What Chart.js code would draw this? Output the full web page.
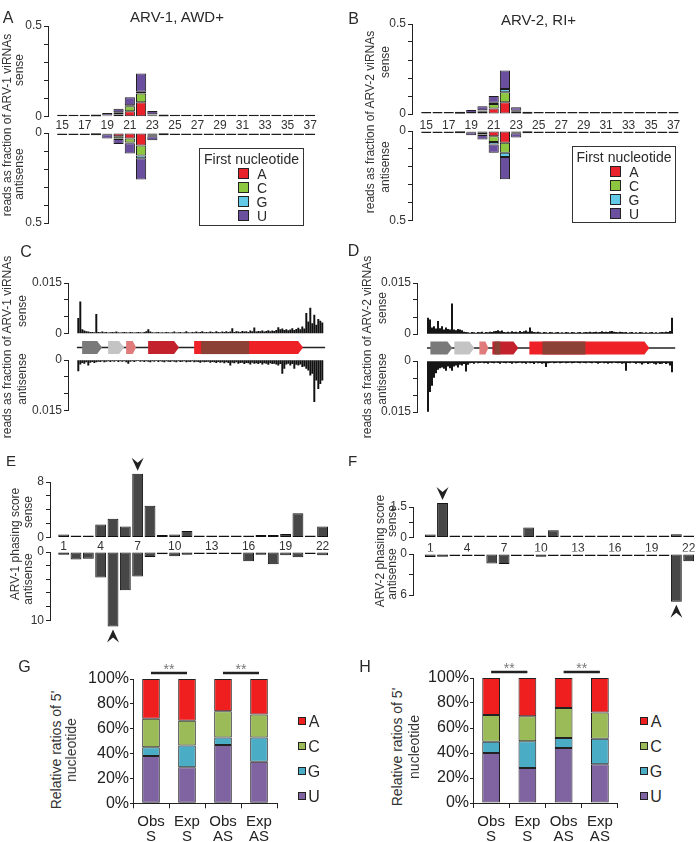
<!DOCTYPE html>
<html lang="fr">
<head>
<meta charset="utf-8">
<title>ARV viRNAs</title>
<script src="https://cdn.jsdelivr.net/npm/chart.js@4.4.1/dist/chart.umd.min.js"></script>
<style>
    body { margin: 0; background: #fff; }
    #page { position: relative; width: 696px; height: 842px; overflow: hidden;
            font-family: "Liberation Sans", Arial, sans-serif; color: #2a2a2a; }
    #page canvas { position: absolute; }
    .txt { position: absolute; white-space: nowrap; line-height: 1; transform: translate(-50%, -50%); }
    .rot { transform: translate(-50%, -50%) rotate(-90deg); color: #333; }
    .leg { position: absolute; border: 1.5px solid #333; box-sizing: border-box; }
    .carre { position: absolute; border: 1px solid #222; box-sizing: border-box; }
</style>
</head>
<body>
<div id="page"></div>
<script>
// ---------------- DONNÉES ----------------

// A / B : taille des viRNAs et premier nucléotide
const lengths = [15, 16, 17, 18, 19, 20, 21, 22, 23, 24, 25, 26, 27, 28, 29, 30, 31, 32, 33, 34, 35, 36, 37];
const lengthTicks = [15, 17, 19, 21, 23, 25, 27, 29, 31, 33, 35, 37];
const fractionTicks = [0, 0.1, 0.2, 0.3, 0.4, 0.5];
const nucleotides = ['A', 'C', 'G', 'U'];

const arv1SenseA = [0, 0, 0, 0.001, 0.003, 0.012, 0.030, 0.080, 0.008, 0.001, 0, 0, 0, 0, 0, 0, 0, 0, 0, 0, 0, 0, 0];
const arv1SenseC = [0, 0, 0, 0, 0.002, 0.008, 0.028, 0.048, 0.003, 0, 0, 0, 0, 0, 0, 0, 0, 0, 0, 0, 0, 0, 0];
const arv1SenseG = [0, 0, 0, 0, 0.001, 0.004, 0.005, 0.010, 0.002, 0, 0, 0, 0, 0, 0, 0, 0, 0, 0, 0, 0, 0, 0];
const arv1SenseU = [0.003, 0.002, 0.002, 0.006, 0.014, 0.020, 0.044, 0.100, 0.018, 0.006, 0.002, 0.002, 0.002, 0.002, 0.002, 0.002, 0.002, 0.002, 0.002, 0.002, 0.002, 0.002, 0.002];

const arv1AntiA = [0, 0, 0, 0.001, 0.004, 0.018, 0.031, 0.069, 0.010, 0.001, 0, 0, 0, 0, 0, 0, 0, 0, 0, 0, 0, 0, 0];
const arv1AntiC = [0, 0, 0, 0, 0.002, 0.012, 0.022, 0.056, 0.005, 0, 0, 0, 0, 0, 0, 0, 0, 0, 0, 0, 0, 0, 0];
const arv1AntiG = [0, 0, 0, 0, 0.001, 0.003, 0.004, 0.015, 0.003, 0, 0, 0, 0, 0, 0, 0, 0, 0, 0, 0, 0, 0, 0];
const arv1AntiU = [0.003, 0.003, 0.003, 0.008, 0.024, 0.028, 0.057, 0.118, 0.022, 0.004, 0.002, 0.002, 0.002, 0.002, 0.002, 0.002, 0.002, 0.002, 0.002, 0.002, 0.002, 0.002, 0.002];

const arv2SenseA = [0, 0, 0, 0.001, 0.003, 0.012, 0.030, 0.065, 0.012, 0.001, 0, 0, 0, 0, 0, 0, 0, 0, 0, 0, 0, 0, 0];
const arv2SenseC = [0, 0, 0, 0, 0.002, 0.006, 0.026, 0.056, 0.004, 0, 0, 0, 0, 0, 0, 0, 0, 0, 0, 0, 0, 0, 0];
const arv2SenseG = [0, 0, 0, 0, 0.001, 0.003, 0.006, 0.018, 0.002, 0, 0, 0, 0, 0, 0, 0, 0, 0, 0, 0, 0, 0, 0];
const arv2SenseU = [0.002, 0.002, 0.002, 0.004, 0.016, 0.022, 0.038, 0.102, 0.019, 0.004, 0.002, 0.002, 0.002, 0.002, 0.002, 0.002, 0.002, 0.002, 0.002, 0.002, 0.002, 0.002, 0.002];

const arv2AntiA = [0, 0, 0, 0.001, 0.004, 0.010, 0.030, 0.065, 0.006, 0.001, 0, 0, 0, 0, 0, 0, 0, 0, 0, 0, 0, 0, 0];
const arv2AntiC = [0, 0, 0, 0, 0.002, 0.010, 0.031, 0.056, 0.004, 0, 0, 0, 0, 0, 0, 0, 0, 0, 0, 0, 0, 0, 0];
const arv2AntiG = [0, 0, 0, 0, 0.001, 0.003, 0.015, 0.024, 0.002, 0, 0, 0, 0, 0, 0, 0, 0, 0, 0, 0, 0, 0, 0];
const arv2AntiU = [0.003, 0.003, 0.003, 0.004, 0.017, 0.025, 0.046, 0.124, 0.025, 0.003, 0.002, 0.002, 0.002, 0.002, 0.002, 0.002, 0.002, 0.002, 0.002, 0.002, 0.002, 0.002, 0.002];

// C / D : couverture le long du génome (123 fenêtres)
const coverageTicks = [0, 0.005, 0.01, 0.015];
const arv1CovSense = [
    0.0045, 0.0094, 0.0012, 0.0008, 0.0006, 0.0005, 0.0004, 0.0004, 0.0003, 0.0057,
    0.0004, 0.0003, 0.0005, 0.0003, 0.0004, 0.0002, 0.0003, 0.0004, 0.0003, 0.0005,
    0.0003, 0.0002, 0.0003, 0.0004, 0.0003, 0.0002, 0.0004, 0.0003, 0.0002, 0.0003,
    0.0004, 0.0003, 0.0002, 0.0004, 0.0006, 0.0012, 0.0005, 0.0003, 0.0002, 0.0003,
    0.0004, 0.0002, 0.0003, 0.0002, 0.0004, 0.0003, 0.0002, 0.0003, 0.0005, 0.0002,
    0.0003, 0.0004, 0.0002, 0.0003, 0.0006, 0.0003, 0.0002, 0.0004, 0.0003, 0.0005,
    0.0003, 0.0004, 0.0006, 0.0003, 0.0004, 0.0003, 0.0005, 0.0004, 0.0003, 0.0006,
    0.0004, 0.0003, 0.0005, 0.0004, 0.0006, 0.0004, 0.0005, 0.0015, 0.0004, 0.0006,
    0.0005, 0.0004, 0.0007, 0.0005, 0.0006, 0.0004, 0.0008, 0.0006, 0.0017, 0.0005,
    0.0007, 0.0006, 0.0008, 0.0005, 0.0007, 0.0009, 0.0006, 0.0008, 0.0007, 0.0010,
    0.0018, 0.0012, 0.0014, 0.0010, 0.0012, 0.0009, 0.0011, 0.0015, 0.0010, 0.0013,
    0.0016, 0.0012, 0.0020, 0.0014, 0.0060, 0.0035, 0.0076, 0.0030, 0.0055, 0.0025,
    0.0042, 0.0037, 0.0032
];
const arv1CovAnti = [
    0.0032, 0.0012, 0.0008, 0.0010, 0.0006, 0.0015, 0.0007, 0.0005, 0.0008, 0.0006,
    0.0004, 0.0005, 0.0003, 0.0006, 0.0004, 0.0003, 0.0005, 0.0003, 0.0004, 0.0002,
    0.0005, 0.0003, 0.0004, 0.0003, 0.0006, 0.0010, 0.0004, 0.0003, 0.0005, 0.0003,
    0.0002, 0.0004, 0.0003, 0.0005, 0.0003, 0.0004, 0.0006, 0.0003, 0.0004, 0.0002,
    0.0005, 0.0003, 0.0004, 0.0006, 0.0003, 0.0004, 0.0005, 0.0003, 0.0004, 0.0006,
    0.0003, 0.0005, 0.0004, 0.0003, 0.0006, 0.0004, 0.0005, 0.0003, 0.0006, 0.0004,
    0.0005, 0.0007, 0.0004, 0.0006, 0.0005, 0.0004, 0.0007, 0.0005, 0.0006, 0.0008,
    0.0005, 0.0007, 0.0006, 0.0009, 0.0006, 0.0008, 0.0015, 0.0007, 0.0009, 0.0006,
    0.0010, 0.0008, 0.0007, 0.0011, 0.0008, 0.0009, 0.0012, 0.0007, 0.0010, 0.0009,
    0.0011, 0.0008, 0.0012, 0.0009, 0.0010, 0.0013, 0.0009, 0.0011, 0.0010, 0.0012,
    0.0015, 0.0011, 0.0040, 0.0025, 0.0012, 0.0010, 0.0015, 0.0011, 0.0025, 0.0013,
    0.0015, 0.0012, 0.0020, 0.0018, 0.0025, 0.0030, 0.0045, 0.0040, 0.0123, 0.0060,
    0.0085, 0.0070, 0.0060
];
const arv2CovSense = [
    0.0047, 0.0042, 0.0018, 0.0022, 0.0015, 0.0037, 0.0016, 0.0022, 0.0012, 0.0018,
    0.0014, 0.0012, 0.0089, 0.0012, 0.0010, 0.0014, 0.0012, 0.0010, 0.0006, 0.0005,
    0.0004, 0.0003, 0.0005, 0.0004, 0.0003, 0.0005, 0.0004, 0.0006, 0.0003, 0.0005,
    0.0004, 0.0006, 0.0005, 0.0007, 0.0008, 0.0010, 0.0007, 0.0009, 0.0005, 0.0004,
    0.0006, 0.0004, 0.0007, 0.0005, 0.0006, 0.0004, 0.0008, 0.0005, 0.0007, 0.0009,
    0.0006, 0.0018, 0.0007, 0.0005, 0.0004, 0.0006, 0.0004, 0.0003, 0.0005, 0.0004,
    0.0003, 0.0005, 0.0004, 0.0003, 0.0004, 0.0005, 0.0003, 0.0004, 0.0003, 0.0005,
    0.0004, 0.0003, 0.0005, 0.0004, 0.0003, 0.0004, 0.0005, 0.0003, 0.0004, 0.0005,
    0.0004, 0.0006, 0.0004, 0.0005, 0.0006, 0.0004, 0.0005, 0.0007, 0.0005, 0.0006,
    0.0005, 0.0007, 0.0008, 0.0006, 0.0005, 0.0004, 0.0006, 0.0005, 0.0004, 0.0005,
    0.0003, 0.0004, 0.0005, 0.0003, 0.0004, 0.0003, 0.0005, 0.0004, 0.0003, 0.0004,
    0.0003, 0.0004, 0.0005, 0.0003, 0.0004, 0.0003, 0.0004, 0.0005, 0.0004, 0.0006,
    0.0005, 0.0008, 0.0047
];
const arv2CovAnti = [
    0.0148, 0.0090, 0.0072, 0.0048, 0.0035, 0.0025, 0.0020, 0.0018, 0.0022, 0.0028,
    0.0015, 0.0020, 0.0028, 0.0015, 0.0012, 0.0018, 0.0010, 0.0012, 0.0008, 0.0030,
    0.0010, 0.0006, 0.0005, 0.0007, 0.0004, 0.0006, 0.0005, 0.0004, 0.0006, 0.0005,
    0.0007, 0.0004, 0.0005, 0.0006, 0.0004, 0.0005, 0.0007, 0.0004, 0.0005, 0.0006,
    0.0004, 0.0005, 0.0007, 0.0004, 0.0006, 0.0005, 0.0004, 0.0006, 0.0005, 0.0007,
    0.0004, 0.0006, 0.0005, 0.0008, 0.0004, 0.0006, 0.0005, 0.0007, 0.0006, 0.0017,
    0.0006, 0.0005, 0.0004, 0.0006, 0.0005, 0.0004, 0.0006, 0.0005, 0.0004, 0.0006,
    0.0005, 0.0004, 0.0006, 0.0005, 0.0004, 0.0005, 0.0006, 0.0004, 0.0005, 0.0006,
    0.0004, 0.0005, 0.0006, 0.0004, 0.0005, 0.0007, 0.0005, 0.0004, 0.0006, 0.0005,
    0.0007, 0.0005, 0.0006, 0.0004, 0.0005, 0.0006, 0.0005, 0.0007, 0.0006, 0.0028,
    0.0005, 0.0006, 0.0004, 0.0005, 0.0007, 0.0005, 0.0006, 0.0009, 0.0006, 0.0005,
    0.0008, 0.0006, 0.0005, 0.0007, 0.0009, 0.0006, 0.0008, 0.0007, 0.0005, 0.0008,
    0.0006, 0.0012, 0.0032
];

// Organisation du génome (en fenêtres)
const arv1Genome = [-0.7, 123.4];
const arv1GeneStart = [1.9, 14.9, 23.9, 34.9, 57.9];
const arv1GeneEnd = [11.9, 22.9, 28.9, 50.4, 112.4];
const arv1DomStart = [61.4];
const arv1DomEnd = [85.4];
const arv2Genome = [-0.5, 123.6];
const arv2GeneStart = [1.2, 13.2, 25.7, 32.2, 50.7];
const arv2GeneEnd = [12.2, 23.2, 30.2, 45.2, 110.7];
const arv2DomStart = [33.2, 57.2];
const arv2DomEnd = [36.2, 78.7];

// E / F : score de phasage
const phaseCats = [1, 2, 3, 4, 5, 6, 7, 8, 9, 10, 11, 12, 13, 14, 15, 16, 17, 18, 19, 20, 21, 22];
const phaseTicks = [1, 4, 7, 10, 13, 16, 19, 22];
const arv1PhaseSense = [0.43, 0.29, 0.19, 1.9, 2.7, 1.6, 9.2, 4.6, 0.38, 0.43, 0.96, 0.24, 0.14, 0.14, 0.14, 0.14, 0.38, 0.38, 0.53, 3.5, 0.14, 1.6];
const arv1PhaseAnti = [0.4, 1.1, 1.0, 3.75, 10.9, 5.6, 3.6, 0.73, 0.34, 0.63, 0.39, 0.24, 0.2, 0.1, 0.34, 1.37, 0.39, 1.8, 0.49, 0.78, 0.1, 0.49];
const arv2PhaseSense = [0.15, 1.7, 0.1, 0.02, 0.02, 0.03, 0.02, 0.08, 0.49, 0.1, 0.36, 0.02, 0.03, 0.05, 0.1, 0.07, 0.02, 0.02, 0.02, 0.1, 0.16, 0.05];
const arv2PhaseAnti = [0.44, 0.4, 0.2, 0.2, 0.2, 1.4, 1.46, 0.24, 0.24, 0.4, 0.2, 0.1, 0.1, 0.1, 0.1, 0.1, 0.1, 0.1, 0.1, 0.1, 7.0, 1.07];
const arv1SenseTicks = [0, 2, 4, 6, 8];
const arv1AntiTicks = [0, 2, 4, 6, 8, 10];
const arv2SenseTicks = [0, 0.75, 1.5];
const arv2AntiTicks = [0, 3, 6];

// G / H : ratios du nucléotide 5' (%)
const ratioLabels = [['Obs', 'S'], ['Exp', 'S'], ['Obs', 'AS'], ['Exp', 'AS']];
const percentTicks = [0, 20, 40, 60, 80, 100];
const sigPairs = [[0, 1], [2, 3]];
const arv1RatioU = [38, 29, 47, 33.5];
const arv1RatioG = [7, 17.5, 6, 19.5];
const arv1RatioC = [23, 20, 21, 18.5];
const arv1RatioA = [32, 33.5, 26, 28.5];
const arv2RatioU = [40, 28, 44, 31];
const arv2RatioG = [9, 21.5, 8, 20.5];
const arv2RatioC = [21.5, 20, 24, 21];
const arv2RatioA = [29.5, 30.5, 24, 27.5];

// ---------------- STYLES ----------------
const lengthColors = ['#e8212a', '#8dc63f', '#62c9e6', '#6b4f9f'];       // A C G U
const ratioColors = ['#f01f1f', '#9bbb59', '#4bacc6', '#8064a2'];        // A C G U
const geneColors = ['#7a7a7a', '#c4c4c4', '#e07b7b', '#c3212b', '#ee2127'];
const domainColor = '#8c4136';

Chart.defaults.font.family = '"Liberation Sans", Arial, sans-serif';
Chart.defaults.color = '#333';

const page = document.getElementById('page');
const P = 12;

// ---------------- OUTILS ----------------
function texte(str, cx, cy, size, rot) {
    const d = document.createElement('div');
    d.className = 'txt' + (rot ? ' rot' : '');
    d.textContent = str;
    d.style.left = cx + 'px';
    d.style.top = cy + 'px';
    d.style.fontSize = size + 'px';
    page.appendChild(d);
    return d;
}

function carre(l, t, s, color) {
    const d = document.createElement('div');
    d.className = 'carre';
    Object.assign(d.style, { left: l + 'px', top: t + 'px', width: s + 'px', height: s + 'px', background: color });
    page.appendChild(d);
}

// canvas placé pour que la zone de tracé tombe sur "area"
function makeChart(area, yw, xh, padTop, padBottom, config) {
    const pad = { left: P, right: P, top: padTop, bottom: padBottom };
    const canvas = document.createElement('canvas');
    const w = Math.round(area.r - area.l + yw + pad.left + pad.right);
    const h = Math.round(area.b - area.t + xh + pad.top + pad.bottom);
    pad.right = w - (area.r - area.l + yw + pad.left);
    pad.bottom = h - (area.b - area.t + xh + pad.top);
    canvas.width = w;
    canvas.height = h;
    canvas.style.left = (area.l - yw - pad.left) + 'px';
    canvas.style.top = (area.t - pad.top) + 'px';
    canvas.style.width = w + 'px';
    canvas.style.height = h + 'px';
    page.appendChild(canvas);
    const o = config.options;
    o.responsive = false;
    o.animation = false;
    o.devicePixelRatio = 1;
    o.layout = { padding: pad };
    o.scales.y.afterFit = s => { s.width = yw; };
    o.scales.x.afterFit = s => { s.height = xh; };
    o.plugins = Object.assign({ legend: { display: false }, tooltip: { enabled: false } }, o.plugins);
    return new Chart(canvas, config);
}

function yScale(min, max, ticks, reverse) {
    return {
        min, max, reverse,
        afterBuildTicks: s => { s.ticks = ticks.map(v => ({ value: v })); },
        border: { display: true, color: '#222', width: 1 },
        grid: { display: true, drawOnChartArea: false, drawTicks: true, tickLength: 4, color: '#222' },
        ticks: {
            padding: 2, color: '#333', font: { size: 12 }, autoSkip: false,
            callback: (v, i, arr) => (i === 0 || i === arr.length - 1) ? String(v) : ''
        }
    };
}

function xLinear(min, max, ticks, pad, show) {
    return {
        type: 'linear', min, max, offset: false, stacked: true, display: show,
        afterBuildTicks: s => { s.ticks = ticks.map(v => ({ value: v })); },
        border: { display: false },
        grid: { display: false, drawTicks: false },
        ticks: { padding: pad, color: '#333', font: { size: 12 }, autoSkip: false, maxRotation: 0 }
    };
}

// pointe de flèche au bout d'une barre
function flechePlugin(index, dir) {
    return {
        id: 'fleche',
        afterDatasetsDraw(chart) {
            const bar = chart.getDatasetMeta(0).data[index];
            const ctx = chart.ctx;
            const s = dir === 'down' ? -1 : 1;
            const tip = bar.y + s * 3;
            ctx.save();
            ctx.fillStyle = '#222';
            ctx.beginPath();
            ctx.moveTo(bar.x, tip);
            ctx.lineTo(bar.x - 6, tip + s * 13);
            ctx.lineTo(bar.x, tip + s * 8);
            ctx.lineTo(bar.x + 6, tip + s * 13);
            ctx.closePath();
            ctx.fill();
            ctx.restore();
        }
    };
}

// barres de significativité "**"
function etoilesPlugin(pairs) {
    return {
        id: 'etoiles',
        afterDraw(chart) {
            const x = chart.scales.x;
            const y0 = chart.chartArea.top - 6;
            const ctx = chart.ctx;
            ctx.save();
            pairs.forEach(([a, b]) => {
                const xa = x.getPixelForValue(a), xb = x.getPixelForValue(b);
                ctx.strokeStyle = '#222';
                ctx.lineWidth = 2.5;
                ctx.beginPath();
                ctx.moveTo(xa, y0);
                ctx.lineTo(xb, y0);
                ctx.stroke();
                ctx.fillStyle = '#777';
                ctx.font = '14px "Liberation Sans", Arial';
                ctx.textAlign = 'center';
                ctx.textBaseline = 'alphabetic';
                ctx.fillText('**', (xa + xb) / 2, y0 + 1);
            });
            ctx.restore();
        }
    };
}

// carte du génome sous le graphe "sense"
function genomePlugin(genome, starts, ends, domStarts, domEnds) {
    return {
        id: 'genome',
        afterDraw(chart) {
            const x = chart.scales.x;
            const ctx = chart.ctx;
            const yc = chart.chartArea.bottom + 14, h = 13;
            ctx.save();
            ctx.strokeStyle = '#222';
            ctx.lineWidth = 1.5;
            ctx.beginPath();
            ctx.moveTo(x.getPixelForValue(genome[0]), yc);
            ctx.lineTo(x.getPixelForValue(genome[1]), yc);
            ctx.stroke();
            starts.forEach((s, k) => {
                const x0 = x.getPixelForValue(s), x1 = x.getPixelForValue(ends[k]);
                const tip = Math.min(5, (x1 - x0) / 3);
                ctx.fillStyle = geneColors[k];
                ctx.beginPath();
                ctx.moveTo(x0, yc - h / 2);
                ctx.lineTo(x1 - tip, yc - h / 2);
                ctx.lineTo(x1, yc);
                ctx.lineTo(x1 - tip, yc + h / 2);
                ctx.lineTo(x0, yc + h / 2);
                ctx.closePath();
                ctx.fill();
            });
            ctx.fillStyle = domainColor;
            domStarts.forEach((s, k) => {
                const x0 = x.getPixelForValue(s), x1 = x.getPixelForValue(domEnds[k]);
                ctx.fillRect(x0, yc - h / 2, x1 - x0, h);
            });
            ctx.restore();
        }
    };
}

// ---------------- A / B ----------------
function lengthChart(area, arrays, xmin, xmax, reverse, showX, xPad) {
    const y = yScale(0, 0.5, fractionTicks, reverse);
    y.stacked = true;
    return makeChart(area, 40, showX ? 16 : 0, P, P, {
        type: 'bar',
        data: {
            labels: lengths,
            datasets: nucleotides.map((n, k) => ({
                label: n,
                data: arrays[k],
                backgroundColor: lengthColors[k],
                borderColor: '#1c1c1c',
                borderWidth: 1,
                borderSkipped: false,
                minBarLength: k === 3 ? 2 : 0,
                barPercentage: 0.9,
                categoryPercentage: 1
            }))
        },
        options: { scales: { x: xLinear(xmin, xmax, lengthTicks, xPad, showX), y } }
    });
}

lengthChart({ l: 48.3, t: 26, r: 318, b: 116.7 }, [arv1SenseA, arv1SenseC, arv1SenseG, arv1SenseU], 13.74, 37.67, false, true, 2);
lengthChart({ l: 48.3, t: 132.7, r: 318, b: 222.7 }, [arv1AntiA, arv1AntiC, arv1AntiG, arv1AntiU], 13.74, 37.67, true, false, 0);
lengthChart({ l: 411.7, t: 24, r: 680, b: 114 }, [arv2SenseA, arv2SenseC, arv2SenseG, arv2SenseU], 13.73, 37.6, false, true, 4);
lengthChart({ l: 411.7, t: 130.5, r: 680, b: 220 }, [arv2AntiA, arv2AntiC, arv2AntiG, arv2AntiU], 13.73, 37.6, true, false, 0);

// ---------------- C / D ----------------
function coverageChart(area, values, xmin, xmax, reverse, padBottom, plugins) {
    return makeChart(area, 40, 0, P, padBottom, {
        type: 'bar',
        data: {
            labels: values.map((v, i) => i),
            datasets: [{ data: values, backgroundColor: '#111', borderWidth: 0, barThickness: 1.3 }]
        },
        options: {
            scales: {
                x: { type: 'linear', min: xmin, max: xmax, offset: false, display: false },
                y: yScale(0, 0.015, coverageTicks, reverse)
            }
        },
        plugins: plugins || []
    });
}

coverageChart({ l: 68, t: 282.7, r: 325, b: 333.3 }, arv1CovSense, -5.15, 123.35, false, 24,
    [genomePlugin(arv1Genome, arv1GeneStart, arv1GeneEnd, arv1DomStart, arv1DomEnd)]);
coverageChart({ l: 68, t: 360, r: 325, b: 410.7 }, arv1CovAnti, -5.15, 123.35, true, P);
coverageChart({ l: 416.7, t: 283.3, r: 675, b: 334.3 }, arv2CovSense, -5.5, 123.65, false, 24,
    [genomePlugin(arv2Genome, arv2GeneStart, arv2GeneEnd, arv2DomStart, arv2DomEnd)]);
coverageChart({ l: 416.7, t: 360.7, r: 675, b: 411.7 }, arv2CovAnti, -5.5, 123.65, true, P);

// ---------------- E / F ----------------
function phaseChart(area, values, yMax, ticks, xmin, xmax, reverse, showX, xPad, padTop, padBottom, arrow) {
    return makeChart(area, 40, showX ? 14 : 0, padTop, padBottom, {
        type: 'bar',
        data: {
            labels: phaseCats,
            datasets: [{
                data: values,
                backgroundColor: '#474747',
                borderColor: '#111',
                borderWidth: 1,
                borderSkipped: false,
                minBarLength: 2,
                barPercentage: 0.88,
                categoryPercentage: 1,
                clip: false
            }]
        },
        options: {
            scales: {
                x: xLinear(xmin, xmax, phaseTicks, xPad, showX),
                y: yScale(0, yMax, ticks, reverse)
            }
        },
        plugins: arrow ? [flechePlugin(arrow[0], arrow[1])] : []
    });
}

phaseChart({ l: 50, t: 481.7, r: 329, b: 537.3 }, arv1PhaseSense, 8, arv1SenseTicks, -0.11, 22.52, false, true, 2, 30, P, [6, 'down']);
phaseChart({ l: 50, t: 551.7, r: 329, b: 620 }, arv1PhaseAnti, 10, arv1AntiTicks, -0.11, 22.52, true, false, 0, P, 30, [4, 'up']);
phaseChart({ l: 413.3, t: 506.7, r: 695, b: 537.3 }, arv2PhaseSense, 1.5, arv2SenseTicks, -0.4, 22.49, false, true, 4, 30, P, [1, 'down']);
phaseChart({ l: 413.3, t: 554.3, r: 695, b: 595.3 }, arv2PhaseAnti, 6, arv2AntiTicks, -0.4, 22.49, true, false, 0, P, 30, [20, 'up']);

// ---------------- G / H ----------------
function ratioChart(area, u, g, c, a) {
    const series = [u, g, c, a];
    const colors = [ratioColors[3], ratioColors[2], ratioColors[1], ratioColors[0]];
    return makeChart(area, 44, 40, 28, P, {
        type: 'bar',
        data: {
            labels: ratioLabels,
            datasets: series.map((d, k) => ({
                data: d,
                backgroundColor: colors[k],
                borderColor: '#222',
                borderWidth: 1,
                borderSkipped: false,
                barPercentage: 0.49,
                categoryPercentage: 1
            }))
        },
        options: {
            scales: {
                x: {
                    stacked: true,
                    border: { display: true, color: '#222', width: 1 },
                    grid: { display: true, offset: true, drawOnChartArea: false, drawTicks: true, tickLength: 5, color: '#222' },
                    ticks: { padding: 6, color: '#222', font: { size: 15, lineHeight: 1 }, maxRotation: 0, autoSkip: false }
                },
                y: {
                    stacked: true, min: 0, max: 100,
                    afterBuildTicks: s => { s.ticks = percentTicks.map(v => ({ value: v })); },
                    border: { display: true, color: '#222', width: 1 },
                    grid: { display: true, drawOnChartArea: false, drawTicks: true, tickLength: 3, color: '#222' },
                    ticks: { padding: 1, color: '#222', font: { size: 16 }, autoSkip: false, callback: v => v + '%' }
                }
            }
        },
        plugins: [etoilesPlugin(sigPairs)]
    });
}

ratioChart({ l: 132.7, t: 679, r: 276.7, b: 803.3 }, arv1RatioU, arv1RatioG, arv1RatioC, arv1RatioA);
ratioChart({ l: 473.3, t: 678.3, r: 618.3, b: 803.3 }, arv2RatioU, arv2RatioG, arv2RatioC, arv2RatioA);

// ---------------- TEXTES ----------------
texte('A', 8, 17.5, 16);
texte('B', 353.5, 19, 16);
texte('C', 26, 252, 16);
texte('D', 353.5, 251, 16);
texte('E', 11, 460, 15);
texte('F', 352.5, 460, 15);
texte('G', 24.5, 666.5, 16);
texte('H', 365, 666.5, 16);
texte('ARV-1, AWD+', 177, 15.5, 15);
texte('ARV-2, RI+', 538.5, 19, 15);

texte('reads as fraction of ARV-1 viRNAs', 7, 125, 12, true);
texte('sense', 19, 70, 12, true);
texte('antisense', 19, 174, 12, true);
texte('reads as fraction of ARV-2 viRNAs', 370, 122, 12, true);
texte('sense', 385, 62, 12, true);
texte('antisense', 385, 167, 12, true);
texte('reads as fraction of ARV-1 viRNAs', 7, 347, 12, true);
texte('sense', 22, 311, 12, true);
texte('antisense', 22, 379, 12, true);
texte('reads as fraction of ARV-2 viRNAs', 367, 347, 12, true);
texte('sense', 382, 308, 12, true);
texte('antisense', 382, 379, 12, true);
texte('ARV-1 phasing score', 15, 544, 12, true);
texte('sense', 28, 512, 12, true);
texte('antisense', 28, 579, 12, true);
texte('ARV-2 phasing score', 379.5, 551, 12, true);
texte('sense', 392, 521, 12, true);
texte('antisense', 392, 574, 12, true);
texte("Relative ratios of 5'", 56, 750, 14, true);
texte('nucleotide', 71, 750, 14, true);
texte("Relative ratios of 5'", 397, 747, 14, true);
texte('nucleotide', 414, 747, 14, true);

// Légendes "First nucleotide"
function legendeBox(l, t, w, h, sqX, txtX, firstTop) {
    const box = document.createElement('div');
    box.className = 'leg';
    Object.assign(box.style, { left: l + 'px', top: t + 'px', width: w + 'px', height: h + 'px' });
    page.appendChild(box);
    texte('First nucleotide', l + w / 2, t + 11, 14);
    nucleotides.forEach((n, k) => {
        const y = firstTop + k * 14;
        carre(sqX, y, 11, lengthColors[k]);
        texte(n, txtX, y + 6, 14);
    });
}
legendeBox(199, 148, 105, 78, 238, 262, 168);
legendeBox(572, 146, 104, 77, 610, 634, 166);

// Légendes G / H
function legendeRatio(sqX, txtX) {
    nucleotides.forEach((n, k) => {
        const y = 717 + k * 25;
        carre(sqX, y, 8, ratioColors[k]);
        texte(n, txtX, y + 4.5, 16);
    });
}
legendeRatio(298, 314);
legendeRatio(640, 656);
</script>
</body>
</html>
